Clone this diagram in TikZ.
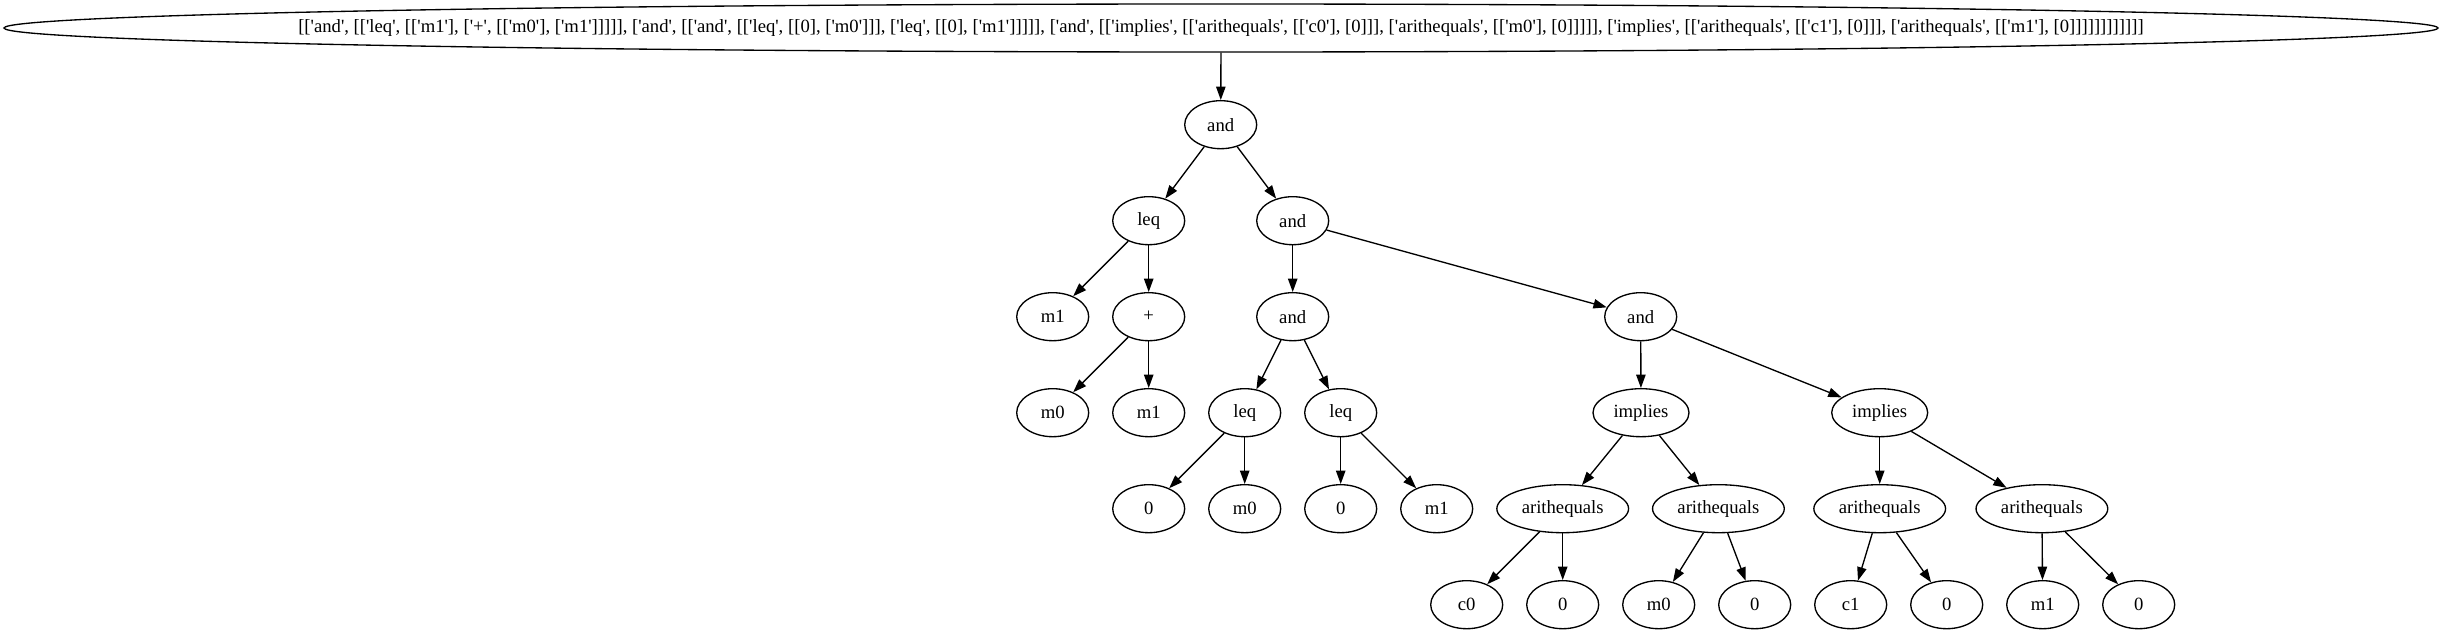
\documentclass[tikz,border=0pt]{standalone}
\usepackage{fontspec}
\setmainfont{Liberation Serif}[Ligatures=TeXOff]
\usetikzlibrary{shapes.geometric,arrows.meta}
\begin{document}
\begin{tikzpicture}[x=0.75pt,y=-0.75pt,
  every node/.style={font=\fontsize{14}{16}\selectfont},
  tn/.style={ellipse,draw,line width=1pt,inner sep=0pt,minimum width=54pt,minimum height=36pt},
  wide/.style={tn,minimum width=72pt},
  wider/.style={tn,minimum width=98.8pt},
  edge/.style={line width=1pt,-{Triangle[length=10pt,width=7pt]}}]
\useasboundingbox (0,0) rectangle (2442,635);
\node[tn,minimum width=1825.5pt] (root) at (1221,28) {\makebox[0pt]{[['and', [['leq', [['m1'], ['+', [['m0'], ['m1']]]]], ['and', [['and', [['leq', [[0], ['m0']]], ['leq', [[0], ['m1']]]]], ['and', [['implies', [['arithequals', [['c0'], [0]]], ['arithequals', [['m0'], [0]]]]], ['implies', [['arithequals', [['c1'], [0]]], ['arithequals', [['m1'], [0]]]]]]]]]]]]}};
% level 1
\node[tn] (and1) at (1220.7,124.7) {and};
% level 2
\node[tn] (leq1) at (1148.7,220.7) {leq};
\node[tn] (and2) at (1292.7,220.7) {and};
% level 3
\node[tn] (m1a) at (1052.7,316.7) {m1};
\node[tn] (plus) at (1148.7,316.7) {+};
\node[tn] (and3) at (1292.7,316.7) {and};
\node[tn] (and4) at (1640.7,316.7) {and};
% level 4
\node[tn] (m0a) at (1052.7,412.7) {m0};
\node[tn] (m1b) at (1148.7,412.7) {m1};
\node[tn] (leq2) at (1244.7,412.7) {leq};
\node[tn] (leq3) at (1340.7,412.7) {leq};
\node[wide] (imp1) at (1641,412.7) {implies};
\node[wide] (imp2) at (1879.7,412.7) {implies};
% level 5
\node[tn] (z1) at (1148.7,508.7) {0};
\node[tn] (m0b) at (1244.7,508.7) {m0};
\node[tn] (z2) at (1340.7,508.7) {0};
\node[tn] (m1c) at (1436.7,508.7) {m1};
\node[wider] (ae1) at (1562.7,508.7) {arithequals};
\node[wider] (ae2) at (1718.4,508.7) {arithequals};
\node[wider] (ae3) at (1879.7,508.7) {arithequals};
\node[wider] (ae4) at (2041.9,508.7) {arithequals};
% level 6
\node[tn] (c0) at (1466.7,604.7) {c0};
\node[tn] (z3) at (1562.7,604.7) {0};
\node[tn] (m0c) at (1658.7,604.7) {m0};
\node[tn] (z4) at (1754.7,604.7) {0};
\node[tn] (c1) at (1850.7,604.7) {c1};
\node[tn] (z5) at (1946.7,604.7) {0};
\node[tn] (m1d) at (2042.7,604.7) {m1};
\node[tn] (z6) at (2138.7,604.7) {0};
% edges
\draw[edge] (root) -- (and1);
\draw[edge] (and1) -- (leq1);
\draw[edge] (and1) -- (and2);
\draw[edge] (leq1) -- (m1a);
\draw[edge] (leq1) -- (plus);
\draw[edge] (plus) -- (m0a);
\draw[edge] (plus) -- (m1b);
\draw[edge] (and2) -- (and3);
\draw[edge] (and2) -- (and4);
\draw[edge] (and3) -- (leq2);
\draw[edge] (and3) -- (leq3);
\draw[edge] (leq2) -- (z1);
\draw[edge] (leq2) -- (m0b);
\draw[edge] (leq3) -- (z2);
\draw[edge] (leq3) -- (m1c);
\draw[edge] (and4) -- (imp1);
\draw[edge] (and4) -- (imp2);
\draw[edge] (imp1) -- (ae1);
\draw[edge] (imp1) -- (ae2);
\draw[edge] (imp2) -- (ae3);
\draw[edge] (imp2) -- (ae4);
\draw[edge] (ae1) -- (c0);
\draw[edge] (ae1) -- (z3);
\draw[edge] (ae2) -- (m0c);
\draw[edge] (ae2) -- (z4);
\draw[edge] (ae3) -- (c1);
\draw[edge] (ae3) -- (z5);
\draw[edge] (ae4) -- (m1d);
\draw[edge] (ae4) -- (z6);
\end{tikzpicture}
\end{document}
